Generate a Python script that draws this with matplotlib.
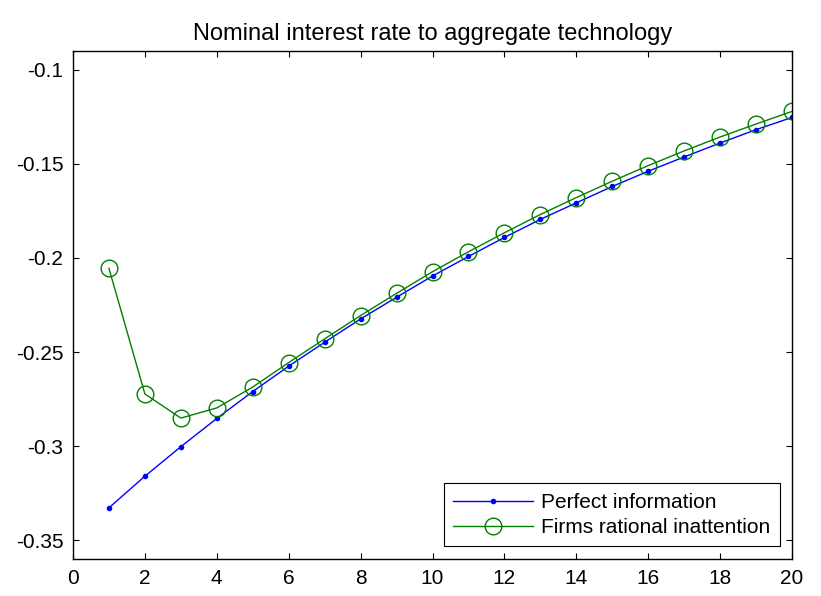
#!/usr/bin/env python
import numpy as np
import matplotlib
matplotlib.use("Agg")
import matplotlib.pyplot as plt

plt.rcParams['font.family'] = ['Liberation Sans', 'DejaVu Sans']

periods = np.arange(1, 21)
perfect_info = [-0.3328, -0.3160, -0.3003, -0.2853, -0.2710, -0.2575, -0.2448,
                -0.2324, -0.2209, -0.2096, -0.1992, -0.1891, -0.1795, -0.1707,
                -0.1620, -0.1539, -0.1463, -0.1389, -0.1318, -0.1253]
rational_inatt = [-0.2055, -0.2723, -0.2851, -0.2797, -0.2686, -0.2556, -0.2430,
                  -0.2306, -0.2188, -0.2073, -0.1967, -0.1866, -0.1769, -0.1679,
                  -0.1592, -0.1509, -0.1431, -0.1357, -0.1288, -0.1221]
xticks = np.arange(0, 21, 2)
yticks = [-0.35, -0.3, -0.25, -0.2, -0.15, -0.1]
ytick_labels = ['-0.35', '-0.3', '-0.25', '-0.2', '-0.15', '-0.1']

fig = plt.figure(figsize=(8.21, 5.96), dpi=100)
ax = fig.add_axes([0.0889, 0.0621, 0.8758, 0.8523])

ax.plot(periods, perfect_info, color='blue', marker='.', markersize=6,
        linewidth=1.0, label='Perfect information')
ax.plot(periods, rational_inatt, color='green', marker='o', markersize=12,
        markerfacecolor='none', markeredgewidth=1.0, linewidth=1.0,
        label='Firms rational inattention')

ax.set_xlim(0, 20)
ax.set_ylim(-0.36, -0.09)
ax.set_xticks(xticks)
ax.set_yticks(yticks)
ax.set_yticklabels(ytick_labels)
ax.tick_params(direction='in', length=4, width=0.8, top=True, right=True,
               labelsize=15, pad=7)
for sp in ax.spines.values():
    sp.set_linewidth(1.0)

ax.set_title("Nominal interest rate to aggregate technology", fontsize=17, pad=8)
leg = ax.legend(loc='lower right', fontsize=15, fancybox=False,
                edgecolor='black', framealpha=1, borderpad=0.45,
                handlelength=3.8, handletextpad=0.4, labelspacing=0.3,
                borderaxespad=0.6)
leg.get_frame().set_linewidth(0.8)

plt.savefig("out.png", dpi=100)
